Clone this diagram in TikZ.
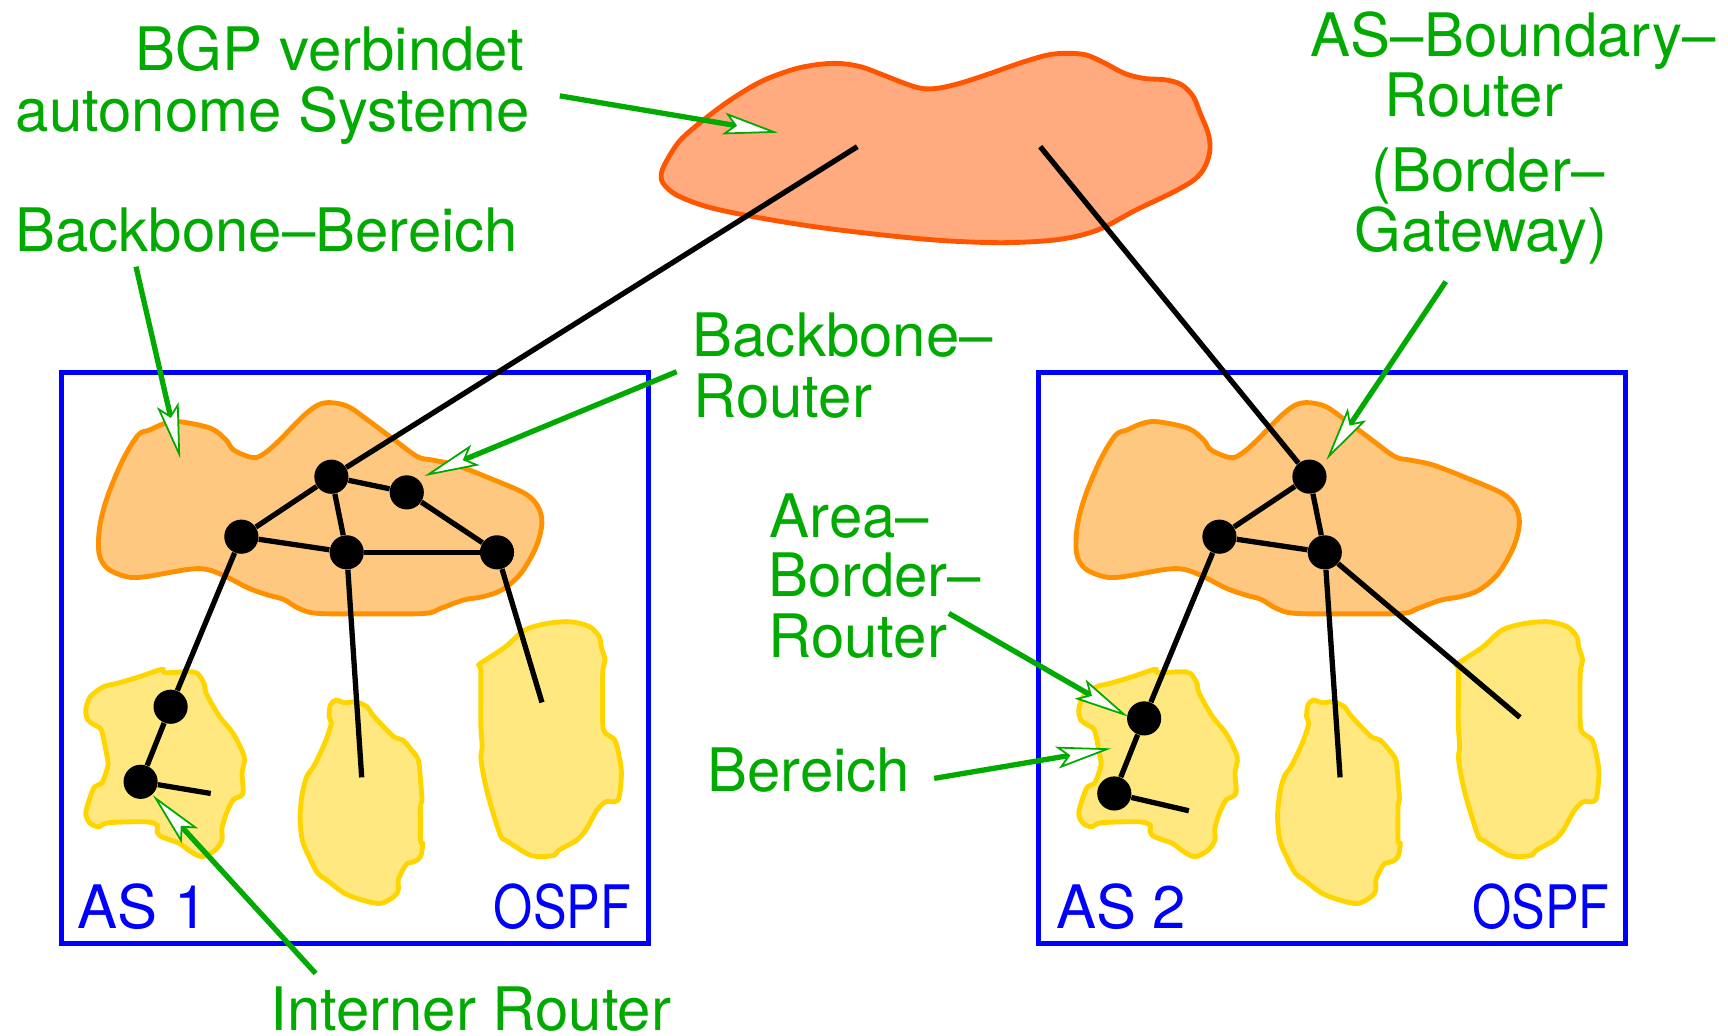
\documentclass[tikz,border=0pt]{standalone}
\usepackage{fontspec}
\setmainfont{TeX Gyre Heros}
\usetikzlibrary{arrows.meta}

\definecolor{labelgreen}{RGB}{0,170,0}
\definecolor{asblue}{RGB}{0,0,255}
\definecolor{bgpfill}{RGB}{255,170,127}
\definecolor{bgpline}{RGB}{255,85,0}
\definecolor{bbfill}{RGB}{255,200,128}
\definecolor{bbline}{RGB}{255,145,0}
\definecolor{areafill}{RGB}{255,232,128}
\definecolor{arealine}{RGB}{255,213,0}

% outlines of the regions, reused for both autonomous systems
\newcommand\backboneregion[1]{%
  \draw[bbregion,#1] plot[smooth cycle, tension=0.55] coordinates {
    (163.5,382.7) (191.3,388.7) (205.2,399.3) (212.1,408.4) (229.5,415.3)
    (239.9,411.4) (253.8,399.3) (274.6,378.1) (288.5,367.5) (300.7,365.4)
    (316.3,369.1) (333.7,381.2) (358.0,399.3) (378.8,414.4) (392.7,417.5)
    (413.5,422.0) (444.8,434.1) (476.1,447.7) (488.2,459.8) (491.7,474.9)
    (486.5,496.1) (472.6,520.3) (455.2,535.4) (437.8,541.5) (420.5,544.5)
    (399.7,552.1) (385.8,556.6) (337.0,557.0) (288.5,556.6) (271.2,552.1)
    (257.3,543.9) (243.4,540.0) (226.0,533.9) (205.2,523.3) (187.8,516.7)
    (170.4,516.7) (132.2,523.3) (114.9,523.3) (97.5,515.8) (89.9,502.2)
    (90.5,478.0) (97.5,450.7) (111.4,417.5) (125.3,394.8) (135.7,390.2)
    (149.6,384.2)};}
\newcommand\leftarea[1]{%
  \draw[arearegion,#1] plot[smooth cycle, tension=0.5] coordinates {
    (106.2,620.1) (126.4,614.1) (146.7,607.4) (149.9,610.4) (171.0,609.5)
    (179.1,611.1) (185.2,620.1) (187.2,629.2) (199.3,650.4) (211.5,665.5)
    (221.6,686.7) (219.6,701.8) (220.4,720.0) (211.5,726.0) (205.4,738.1)
    (201.4,751.7) (201.4,762.3) (195.3,771.4) (183.1,777.4) (171.0,771.4)
    (162.9,765.3) (146.7,759.3) (142.6,754.7) (142.6,748.7) (132.5,745.7)
    (98.1,746.6) (90.0,750.2) (81.9,747.2) (77.8,738.1) (81.9,723.0)
    (85.9,713.9) (92.0,710.9) (96.0,701.8) (98.1,692.7) (96.0,680.6)
    (92.0,662.5) (85.9,657.9) (79.8,653.4) (77.8,644.3) (81.9,632.2)
    (94.0,623.2)};}
\newcommand\middlearea[1]{%
  \draw[arearegion,#1] plot[smooth cycle, tension=0.5] coordinates {
    (304.7,635.3) (312.8,637.7) (322.9,636.8) (333.0,641.3) (337.1,647.4)
    (345.2,656.4) (357.3,668.5) (365.4,671.6) (373.5,680.6) (379.6,689.7)
    (381.6,707.9) (382.9,726.0) (381.6,732.1) (381.6,762.3) (383.6,765.3)
    (381.6,777.4) (375.6,782.0) (369.5,783.5) (365.4,789.5) (361.4,798.6)
    (361.4,807.7) (357.3,813.7) (345.2,819.8) (329.0,816.8) (312.8,810.7)
    (296.6,798.6) (288.5,792.6) (280.4,777.4) (274.3,762.3) (272.3,741.1)
    (274.3,720.0) (278.3,704.8) (284.4,695.8) (290.5,683.7) (295.8,671.6)
    (300.6,656.4) (298.6,650.4) (299.8,639.8)};}
\newcommand\rightarea[1]{%
  \draw[arearegion,#1] plot[smooth cycle, tension=0.5] coordinates {
    (440.4,599.0) (458.7,586.9) (476.1,571.7) (496.9,565.7) (517.7,564.2)
    (535.1,568.7) (543.8,577.8) (545.5,586.9) (549.0,599.0) (546.9,611.1)
    (546.9,656.4) (549.8,665.5) (557.9,671.6) (561.9,686.7) (563.9,701.8)
    (561.9,723.0) (557.9,727.5) (549.8,727.5) (541.7,735.1) (531.5,753.2)
    (523.4,762.3) (507.2,771.4) (503.2,775.9) (491.0,777.4) (480.9,775.9)
    (472.8,771.4) (458.6,762.3) (454.6,759.3) (448.5,741.1) (442.4,720.0)
    (438.4,701.8) (436.3,686.7) (437.5,677.6) (436.3,656.4) (436.3,609.5)
    (434.5,603.5)};}

\begin{document}
\begin{tikzpicture}[x=0.5pt, y=-0.5pt,
  lbl/.style={inner sep=0pt, text=labelgreen, font=\fontsize{27.2}{27.5}\selectfont},
  aslbl/.style={inner sep=0pt, text=asblue, font=\fontsize{27.2}{27.5}\selectfont},
  asbox/.style={draw=asblue, line width=2.3pt},
  bgpregion/.style={draw=bgpline, fill=bgpfill, line width=2.2pt},
  bbregion/.style={draw=bbline, fill=bbfill, line width=2.2pt},
  arearegion/.style={draw=arealine, fill=areafill, line width=2.2pt},
  link/.style={draw=black, line width=2.4pt},
  router/.style={circle, fill=black, minimum size=15.5pt, inner sep=0pt},
  pointer/.style={draw=labelgreen, line width=2.4pt,
    -{Stealth[length=25pt, width=10pt, inset=5pt, line width=0.8pt, fill=white]}}]

\useasboundingbox (0,0) rectangle (1568,940);

% BGP cloud joining the autonomous systems
\draw[bgpregion] plot[smooth cycle, tension=0.55] coordinates {
  (600.1,157.3) (605.3,145.2) (617.4,127.1) (638.3,108.9) (662.6,90.8)
  (690.4,74.1) (718.2,63.5) (739.0,59.0) (759.8,57.5) (780.7,60.5)
  (801.5,68.1) (822.3,76.2) (836.2,80.2) (850.1,80.2) (871.0,75.6)
  (898.7,66.6) (926.5,56.9) (950.8,49.9) (968.2,48.4) (985.6,49.9)
  (1002.9,57.5) (1020.3,66.6) (1037.7,71.1) (1058.5,72.6) (1072.4,77.1)
  (1082.8,87.7) (1089.1,102.9) (1096,120) (1098,135) (1094,150)
  (1085,162) (1065.5,173.9) (1030.7,190.6) (996.0,208.7) (961.3,217.2)
  (912.6,220.2) (857.1,218.4) (801.5,213.3) (739.0,205.7) (683.4,196.6)
  (641.7,187.6) (614.0,177.0) (601.8,166.4)};

% AS frames
\draw[asbox] (55.8,338.2) rectangle (588.2,856.1);
\draw[asbox] (942.3,338.2) rectangle (1474.8,856.1);

% regions of AS 1
\backboneregion{}
\leftarea{}
\middlearea{}
\rightarea{}

% regions of AS 2
\backboneregion{shift={(887,0)}}
\leftarea{shift={(901,0)}}
\middlearea{shift={(887,0)}}
\rightarea{shift={(887,0)}}

% routers of AS 1
\node[router] (a1t) at (300.7,432.6) {};
\node[router] (a1r) at (369.1,446.8) {};
\node[router] (a1l) at (219.0,487.0) {};
\node[router] (a1m) at (314.6,501.2) {};
\node[router] (a1e) at (451.0,501.2) {};
\node[router] (a1u) at (154.8,641.3) {};
\node[router] (a1d) at (127.6,709.4) {};

% routers of AS 2
\node[router] (a2t) at (1188.2,432.5) {};
\node[router] (a2l) at (1106.5,487.0) {};
\node[router] (a2m) at (1202.1,501.2) {};
\node[router] (a2u) at (1038.2,651.9) {};
\node[router] (a2d) at (1011.1,720.0) {};

% loose link ends
\coordinate (bgpw) at (777.9,133.1);
\coordinate (bgpe) at (943.9,133.1);
\coordinate (e1d) at (191.2,720.0);
\coordinate (e1m) at (328.2,705.4);
\coordinate (e1e) at (491.8,637.4);
\coordinate (e2d) at (1078.8,735.7);
\coordinate (e2m) at (1216.0,705.4);
\coordinate (e2e) at (1379.2,651.0);

% links of AS 1
\draw[link] (bgpw) -- (a1t);
\draw[link] (a1t) -- (a1l);
\draw[link] (a1t) -- (a1r);
\draw[link] (a1t) -- (a1m);
\draw[link] (a1l) -- (a1m);
\draw[link] (a1m) -- (a1e);
\draw[link] (a1r) -- (a1e);
\draw[link] (a1l) -- (a1u);
\draw[link] (a1u) -- (a1d);
\draw[link] (a1d) -- (e1d);
\draw[link] (a1m) -- (e1m);
\draw[link] (a1e) -- (e1e);

% links of AS 2
\draw[link] (bgpe) -- (a2t);
\draw[link] (a2t) -- (a2l);
\draw[link] (a2t) -- (a2m);
\draw[link] (a2l) -- (a2m);
\draw[link] (a2l) -- (a2u);
\draw[link] (a2u) -- (a2d);
\draw[link] (a2d) -- (e2d);
\draw[link] (a2m) -- (e2m);
\draw[link] (a2m) -- (e2e);

% AS labels
\node[aslbl, anchor=base west] (as1) at (70,842.5) {AS 1};
\node[aslbl, anchor=base east] (ospf1) at (573,842.5) {\scalebox{0.84}[1]{OSPF}};
\node[aslbl, anchor=base west] (as2) at (958,842.5) {AS 2};
\node[aslbl, anchor=base east] (ospf2) at (1461,842.5) {\scalebox{0.84}[1]{OSPF}};

% annotations
\node[lbl, anchor=base west] (bgpa) at (123,64.1) {BGP verbindet};
\node[lbl, anchor=base west] (bgpb) at (14,119.5) {autonome Systeme};
\node[lbl, anchor=base west] (bbb) at (13.5,228.4) {Backbone\textendash Bereich};
\node[lbl, anchor=base west] (asba) at (1189,51.4) {AS\textendash Boundary\textendash};
\node[lbl, anchor=base west] (asbb) at (1256,105.9) {Router};
\node[lbl, anchor=base west] (asbc) at (1244,173.9) {(Border\textendash};
\node[lbl, anchor=base west] (asbd) at (1229,228.4) {Gateway)};
\node[lbl, anchor=base west] (bbra) at (628,323.7) {Backbone\textendash};
\node[lbl, anchor=base west] (bbrb) at (629,378.7) {Router};
\node[lbl, anchor=base west] (abra) at (698,487.6) {Area\textendash};
\node[lbl, anchor=base west] (abrb) at (696.5,541.4) {Border\textendash};
\node[lbl, anchor=base west] (abrc) at (697,596.5) {Router};
\node[lbl, anchor=base west] (ber) at (641.6,718.4) {Bereich};
\node[lbl, anchor=base west] (intr) at (245,935.5) {Interner Router};

% pointer arrows
\coordinate (p1s) at (508,87);      \coordinate (p1e) at (706,120.4);
\coordinate (p2s) at (123.4,242.0); \coordinate (p2e) at (163.5,416);
\coordinate (p3s) at (614,337.3);   \coordinate (p3e) at (385.1,432.0);
\coordinate (p4s) at (1311.9,255.6);\coordinate (p4e) at (1203.5,417.5);
\coordinate (p5s) at (861.0,556.6); \coordinate (p5e) at (1023.5,650.3);
\coordinate (p6s) at (847.7,706.3); \coordinate (p6e) at (1008.5,679.1);
\coordinate (p7s) at (286.4,883.3); \coordinate (p7e) at (138.6,721.5);
\draw[pointer] (p1s) -- (p1e);
\draw[pointer] (p2s) -- (p2e);
\draw[pointer] (p3s) -- (p3e);
\draw[pointer] (p4s) -- (p4e);
\draw[pointer] (p5s) -- (p5e);
\draw[pointer] (p6s) -- (p6e);
\draw[pointer] (p7s) -- (p7e);

\end{tikzpicture}
\end{document}
